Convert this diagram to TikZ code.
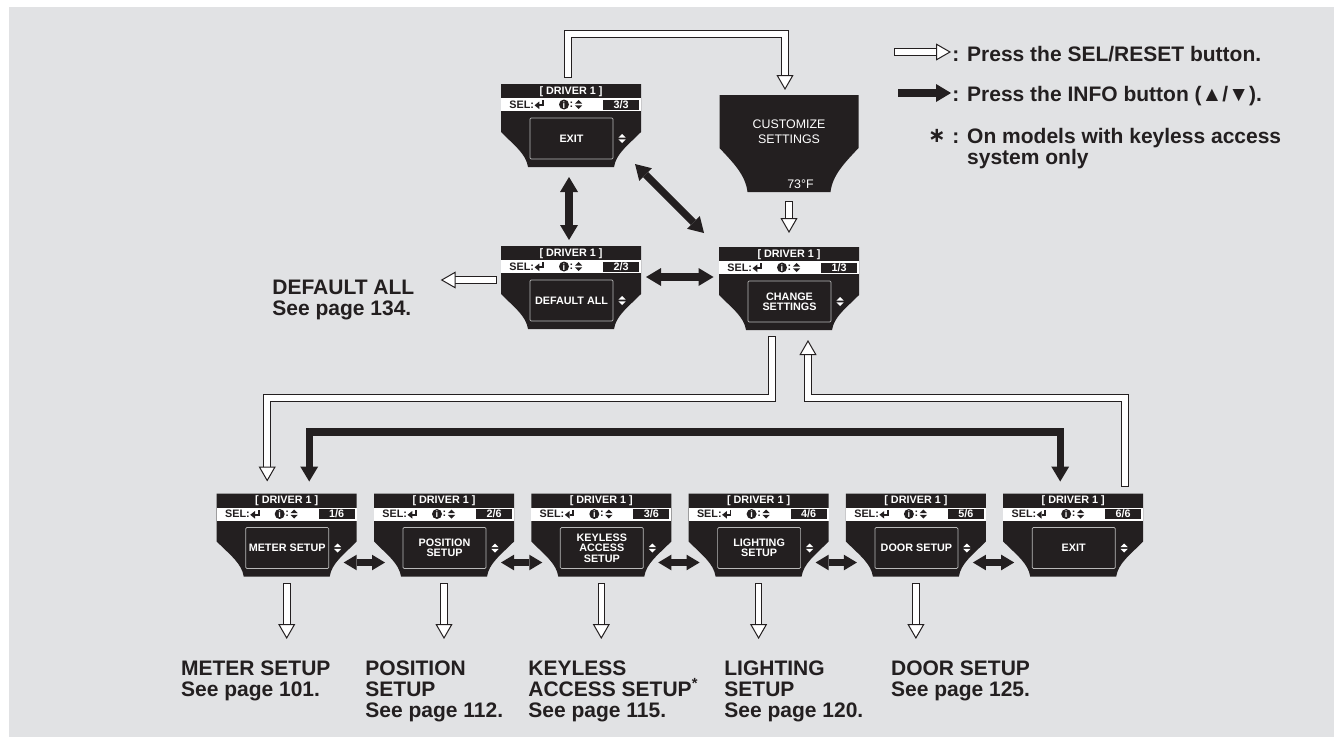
\documentclass[tikz,border=0pt]{standalone}
\usepackage{fontspec}
\setmainfont{Liberation Sans}
\newfontfamily\symfont{DejaVu Sans}
\usetikzlibrary{arrows.meta,positioning}

\definecolor{ink}{HTML}{231F20}
\definecolor{panel}{HTML}{E1E2E4}

\newcommand{\lblfont}{\fontsize{10.5}{10.5}\selectfont\bfseries}
\newcommand{\scrfont}{\fontsize{5.4}{5.2}\selectfont}
\newcommand{\custfont}{\fontsize{6.2}{7.5}\selectfont}

% up/down marker of the display
\newcommand{\updn}[3]{%
  \fill[#3] (#1-3.7,#2-0.8) -- (#1,#2-4.5) -- (#1+3.7,#2-0.8) -- cycle
    (#1-3.7,#2+0.8) -- (#1,#2+4.5) -- (#1+3.7,#2+0.8) -- cycle;}

% one DRIVER 1 display: name, top left corner, page, menu entry
\newcommand{\drvscreen}[4]{%
  \node[scrframe] (#1) at (#2) {};
  \begin{scope}[shift={(#1.north west)}]
    \fill[ink] (0,0) -- (140,0) -- (140,48) .. controls (126,62) and (115,70) .. (113,83)
      -- (27,83) .. controls (25,70) and (14,62) .. (0,48) -- cycle;
    \fill[white] (0,14) rectangle (140,27);
    \fill[ink] (102,15.5) rectangle (138,25.5);
    \node[scrtxt, font=\scrfont\bfseries] (#1-hd) at (70,7.5) {[ DRIVER 1 ]};
    \node[scrtxt, font=\scrfont\bfseries] (#1-pg) at (120,20.5) {#3};
    \node[scrtxt, text=ink, font=\scrfont\bfseries, anchor=base west] (#1-sel) at (8,24.3) {SEL:};
    \draw[ink, line width=0.85pt, -{Triangle[length=2.4pt,width=3.8pt,line width=0pt]}]
      (42,16.3) -- (42,21.3) -- (33.5,21.3);
    \fill[ink] (63,20.5) circle (2.5pt);
    \node[scrtxt, font=\fontsize{4.6}{4.6}\selectfont\bfseries] (#1-i) at (63,20.8) {i};
    \node[scrtxt, text=ink, font=\scrfont\bfseries] (#1-col) at (70.5,20.3) {:};
    \updn{77.5}{20.5}{ink}
    \draw[gray!55, line width=0.35pt, rounded corners=0.6pt] (29,34) rectangle (112,75);
    \node[menu] (#1-mn) at (70.5,54.5) {#4};
    \updn{121}{54.5}{white}
  \end{scope}}

\begin{document}
\begin{tikzpicture}[
  x=0.5pt, y=-0.5pt,
  infotip/.tip={Triangle[width=9pt,length=7.5pt,line width=0pt]},
  smalltip/.tip={Triangle[width=7.8pt,length=6.5pt,line width=0pt]},
  scrframe/.style={minimum width=70pt, minimum height=41.5pt, inner sep=0pt,
                   outer sep=0pt, anchor=north west},
  scrtxt/.style={text=white, inner sep=0pt, font=\scrfont},
  menu/.style={text=white, inner sep=0pt, align=center, font=\scrfont\bfseries},
  lbl/.style={font=\lblfont, text=ink, align=left, inner sep=0pt, anchor=north west},
  selarr/.style={draw=ink, line width=0.5pt, double=white, double distance=2.8pt,
                 line cap=rect, -{Triangle[width=8.5pt,length=7.5pt,fill=white,line width=0.5pt]}},
  infoarr/.style={draw=ink, line width=3.7pt, infotip-infotip}
]
\useasboundingbox (0,0) rectangle (1343,744);
\fill[panel] (9,7) rectangle (1334,737);

% displays
\drvscreen{s33}{501,84}{3/3}{EXIT}
\drvscreen{s23}{501,246}{2/3}{DEFAULT ALL}
\drvscreen{s13}{719,247}{1/3}{CHANGE\\SETTINGS}
\foreach \i/\txt in {1/{METER SETUP}, 2/{POSITION\\SETUP}, 3/{KEYLESS\\ACCESS\\SETUP},
                     4/{LIGHTING\\SETUP}, 5/{DOOR SETUP}, 6/{EXIT}}
  \drvscreen{s\i6}{{216.7+157.3*(\i-1)},493.5}{\i/6}{\txt};

\node[scrframe, minimum width=69.5pt, minimum height=48.5pt] (cust) at (719.5,95) {};
\begin{scope}[shift={(cust.north west)}]
  \fill[ink] (0,0) -- (139,0) -- (139,53) .. controls (125,68) and (113,80) .. (111,97)
    -- (28,97) .. controls (26,80) and (14,68) .. (0,53) -- cycle;
  \node[scrtxt, font=\custfont, align=center, anchor=north] (cust-t) at (69.5,24) {CUSTOMIZE\\SETTINGS};
  \node[scrtxt, font=\custfont, anchor=base] (cust-tmp) at (81,93.5) {73°F};
\end{scope}

% labels
\node[lbl] (dflt) at (272,279.3) {DEFAULT ALL\\See page 134.};
\node[lbl] (l16) at (180.7,660) {METER SETUP\\See page 101.};
\node[lbl] (l26) at (365,660) {POSITION\\SETUP\\See page 112.};
\node[lbl] (l36) at (528,660) {KEYLESS\\ACCESS SETUP\textsuperscript{*}\\See page 115.};
\node[lbl] (l46) at (724,660) {LIGHTING\\SETUP\\See page 120.};
\node[lbl] (l56) at (890.7,660) {DOOR SETUP\\See page 125.};

% legend
\coordinate (lg1s) at (898,52);
\coordinate (lg1e) at (951,52);
\coordinate (lg2s) at (898,93);
\coordinate (lg2e) at (951,93);
\draw[selarr] (lg1s) -- (lg1e);
\draw[infoarr, -infotip] (lg2s) -- (lg2e);
\node[lbl, anchor=base west] (lg1) at (952,61) {: Press the SEL/RESET button.};
\node[lbl, anchor=base west] (lg2) at (952,101) {: Press the INFO button (▲/▼).};
\node[lbl, anchor=base east] (lg3s) at (946,142.6) {\symfont ∗};
\node[lbl] (lg3) at (952,127.6) {: On models with keyless access\\\phantom{: }system only};

% SEL/RESET moves
\draw[selarr] ([xshift=-1.5pt,yshift=5pt]s33.north) -- ++(0,-40) -| ([xshift=-2pt,yshift=2.5pt]cust.north);
\draw[selarr] ([yshift=-6.5pt]cust.south) -- ([yshift=7pt]s13.north);
\draw[selarr] ([xshift=-4pt,yshift=3.75pt]s23.west) coordinate (dA) -- ([xshift=13pt]dflt.east |- dA);
\draw[selarr] ([xshift=-8.5pt,yshift=-5pt]s13.south) -- ++(0,58) -| ([xshift=-9.75pt,yshift=6pt]s16.north);
\draw[selarr] ([xshift=26pt,yshift=5pt]s66.north) -- ++(0,-85.5) -| ([xshift=9.5pt,yshift=-5pt]s13.south);
\foreach \i in {1,...,5}
  \draw[selarr] ([yshift=-5pt]s\i6.south) -- ([yshift=10.5pt]s\i6.south |- l\i6.north);

% INFO moves
\draw[infoarr] ([xshift=-1pt,yshift=-5pt]s33.south) -- ([xshift=-1pt,yshift=3pt]s23.north);
\draw[infoarr] ([shift={(-6,-3)}]s33.south east) -- ([shift={(-15,-14)}]s13.north west);
\draw[infoarr] ([shift={(5,-10.5)}]s23.east) -- ([shift={(-5.5,-11.5)}]s13.west);
\draw[infoarr] ([xshift=11.25pt,yshift=6pt]s16.north) -- ++(0,-49.5) -| ([xshift=-6.5pt,yshift=6pt]s66.north);
\foreach \a/\b in {1/2,2/3,3/4,4/5,5/6}
  \draw[infoarr, smalltip-smalltip, line width=3.5pt] ([shift={(-13,27.5)}]s\a6.east) -- ([shift={(11,27.5)}]s\b6.west);
\end{tikzpicture}
\end{document}
